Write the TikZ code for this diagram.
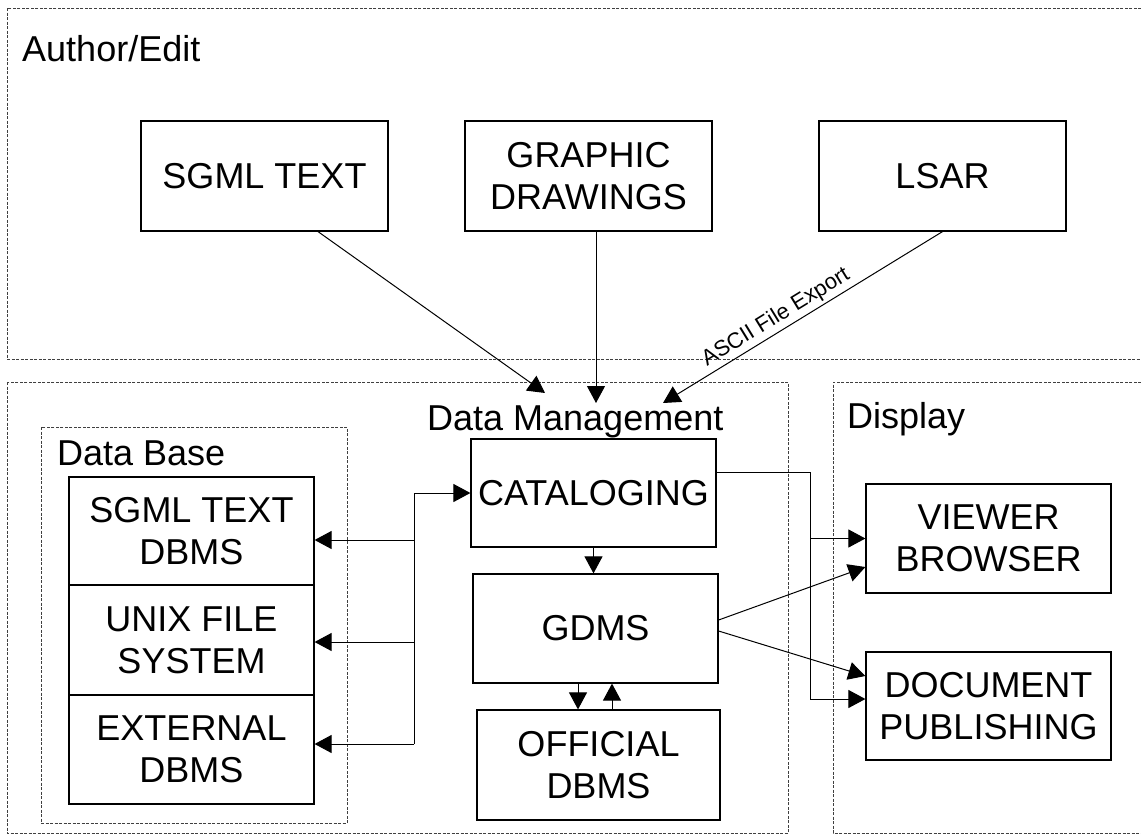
\documentclass[tikz,border=0pt]{standalone}
\usepackage{fontspec}
\setmainfont{Liberation Sans}
\usetikzlibrary{arrows.meta,calc}
\begin{document}
\begin{tikzpicture}[x=1pt,y=-1pt,
  box/.style={draw=black, line width=1.2pt, minimum width=245pt, minimum height=109pt,
    align=center, inner sep=0pt, font=\fontsize{36}{42}\selectfont},
  frame/.style={draw=black!75, line width=0.9pt, dash pattern=on 3pt off 1.5pt},
  title/.style={anchor=base west, inner sep=0pt, font=\fontsize{36}{42}\selectfont},
  arr/.style={-{Triangle[length=17pt,width=18pt]}, line width=1pt},
  wire/.style={line width=1pt}]
\useasboundingbox (0,0) rectangle (1141,835);

% frames
\draw[frame] (1141,8) -- (7,8) -- (7,359) -- (1141,359);
\draw[frame] (7,382) rectangle (788,833);
\draw[frame] (1141,382) -- (833,382) -- (833,833) -- (1141,833);
\draw[frame] (41,427) rectangle (347,823);

% titles
\node[title] (tAuthor) at (22,61) {Author/Edit};
\node[title] (tDM) at (427,430) {Data Management};
\node[title] (tDB) at (57,465) {Data Base};
\node[title] (tDisp) at (847,428) {Display};

% boxes
\node[box, minimum width=247pt, minimum height=110pt] (sgml) at (264.5,176) {SGML TEXT};
\node[box, minimum width=247pt, minimum height=110pt] (graphic) at (588.5,176) {GRAPHIC\\DRAWINGS};
\node[box, minimum width=247pt, minimum height=110pt] (lsar) at (942.5,176) {LSAR};
\node[box, minimum height=108pt] (cat) at (593.5,493) {CATALOGING};
\node[box] (gdms) at (595.5,628.5) {GDMS};
\node[box, minimum width=243pt, minimum height=110pt] (official) at (598.5,765) {OFFICIAL\\DBMS};
\node[box] (viewer) at (988.5,538.5) {VIEWER\\BROWSER};
\node[box, minimum height=108pt] (document) at (988.5,706) {DOCUMENT\\PUBLISHING};
\node[box, minimum height=108pt] (db1) at (191.5,531) {SGML TEXT\\DBMS};
\node[box, minimum height=110pt] (db2) at (191.5,640) {UNIX FILE\\SYSTEM};
\node[box, minimum height=109pt] (db3) at (191.5,749.5) {EXTERNAL\\DBMS};

% inputs to data management
\coordinate (in1) at (545,393);
\coordinate (in2) at (596,403);
\coordinate (in3) at (663,403);
\draw[arr] ([xshift=53.5pt]sgml.south) -- (in1);
\draw[arr] ([xshift=7.5pt]graphic.south) -- (in2);
\draw[arr] (lsar.south) -- node[sloped, above, pos=0.57, inner sep=3pt,
  font=\fontsize{22}{25}\selectfont] (ascii) {ASCII File Export} (in3);

% data base bus
\coordinate (bus1) at (414,540);
\coordinate (bus2) at (414,642);
\coordinate (bus3) at (414,744);
\draw[arr] (bus3) -- (bus3 |- cat.west) -- (cat.west);
\draw[arr] (bus1) -- (bus1 -| db1.east);
\draw[arr] (bus2) -- (bus2 -| db2.east);
\draw[arr] (bus3) -- (bus3 -| db3.east);

% cataloging -> gdms
\draw[arr] (cat.south) -- (cat.south |- gdms.north);
% gdms <-> official
\draw[arr] ([xshift=-17.5pt]gdms.south) -- ([xshift=-17.5pt]gdms.south |- official.north);
\draw[arr] ([xshift=16.5pt]gdms.south |- official.north) -- ([xshift=16.5pt]gdms.south);

% cataloging -> display
\coordinate (c1) at (810,472);
\coordinate (c2) at (810,699);
\draw[arr] ([yshift=21pt]cat.east) -- (c1) -- (c2) -- (c2 -| document.west);
\draw[arr] (c1 |- viewer.west) -- (viewer.west);

% gdms -> display
\draw[arr] ([yshift=8.5pt]gdms.east) -- ([yshift=-28.5pt]viewer.west);
\draw[arr] ([yshift=-2.5pt]gdms.east) -- ([yshift=30pt]document.west);
\end{tikzpicture}
\end{document}
